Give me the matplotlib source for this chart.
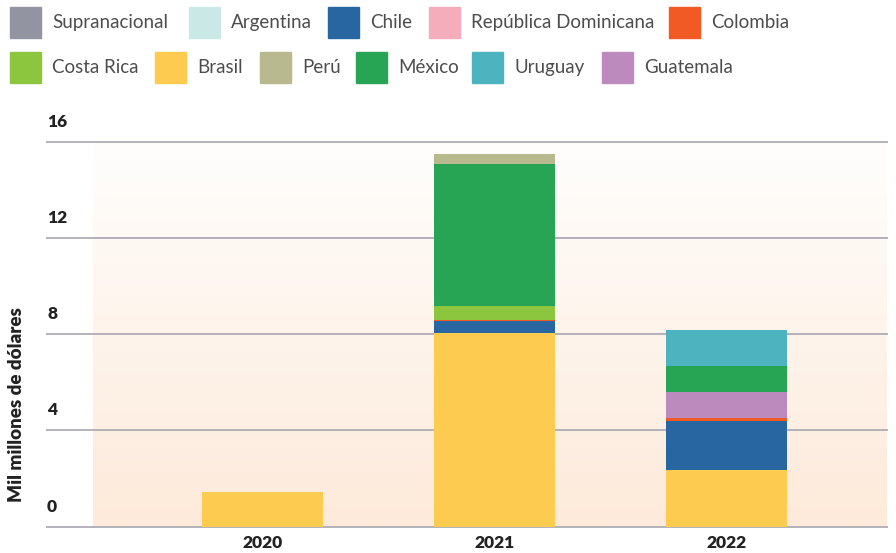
import matplotlib
matplotlib.use("Agg")
import matplotlib.pyplot as plt
import matplotlib.transforms as mtransforms
from matplotlib.patches import Rectangle
import numpy as np

plt.rcParams['font.family'] = ['Lato', 'DejaVu Sans']

# ---- data (mil millones de dólares) ----
years = ["2020", "2021", "2022"]
countries = ["Supranacional", "Argentina", "Chile", "República Dominicana", "Colombia",
             "Costa Rica", "Brasil", "Perú", "México", "Uruguay", "Guatemala"]
colors = {
    "Supranacional": "#9394a2",
    "Argentina": "#c9e8e6",
    "Chile": "#2766a1",
    "República Dominicana": "#f5adbb",
    "Colombia": "#f15a22",
    "Costa Rica": "#8cc63f",
    "Brasil": "#fdcb4f",
    "Perú": "#b8b98e",
    "México": "#27a454",
    "Uruguay": "#4db3bf",
    "Guatemala": "#bc8abd",
}
# stacking order from the bottom up
stack_order = ["Brasil", "Chile", "República Dominicana", "Colombia", "Costa Rica",
               "Guatemala", "México", "Perú", "Uruguay", "Argentina", "Supranacional"]
brasil = [1.44, 8.04, 2.36]
chile = [0.0, 0.50, 2.04]
rep_dominicana = [0.0, 0.0, 0.0]
colombia = [0.0, 0.07, 0.12]
costa_rica = [0.0, 0.55, 0.0]
guatemala = [0.0, 0.0, 1.08]
mexico = [0.0, 5.93, 1.08]
peru = [0.0, 0.41, 0.0]
uruguay = [0.0, 0.0, 1.50]
argentina = [0.0, 0.0, 0.0]
supranacional = [0.0, 0.0, 0.0]
series = {
    "Brasil": brasil, "Chile": chile, "República Dominicana": rep_dominicana,
    "Colombia": colombia, "Costa Rica": costa_rica, "Guatemala": guatemala,
    "México": mexico, "Perú": peru, "Uruguay": uruguay, "Argentina": argentina,
    "Supranacional": supranacional,
}
y_ticks = [0, 4, 8, 12, 16]
y_label = "Mil millones de dólares"

# ---- figure ----
W, H = 896, 553
fig = plt.figure(figsize=(W / 100, H / 100), dpi=100)
fig.patch.set_facecolor("white")

ax_left, ax_right, ax_top, ax_bottom = 93, 887, 141.7, 526.7
ax = fig.add_axes([ax_left / W, 1 - ax_bottom / H, (ax_right - ax_left) / W,
                   (ax_bottom - ax_top) / H])
ax.set_xlim(-0.73, 2.69)
ax.set_ylim(0, 16)

# soft vertical gradient behind the bars
grad = np.linspace(0, 1, 256).reshape(-1, 1)
top_c = np.array([255, 254, 253]) / 255
bot_c = np.array([253, 234, 218]) / 255
img = top_c * (1 - grad[..., None]) + bot_c * grad[..., None]
img = np.repeat(img, 2, axis=1)
ax.imshow(img, extent=(-0.73, 2.69, 0, 16), aspect="auto", origin="upper", zorder=0)

# gridlines extending left of the plotting area
grid_xmin = (47 - ax_left) / (ax_right - ax_left)
for v in y_ticks:
    ax.axhline(v, xmin=grid_xmin, xmax=1, color="#b3b1ba", lw=1.4, zorder=1,
               clip_on=False)

# stacked bars
x = np.arange(len(years))
bottom = np.zeros(len(years))
for name in stack_order:
    vals = np.array(series[name])
    ax.bar(x, vals, bottom=bottom, width=0.52, color=colors[name], zorder=2,
           linewidth=0)
    bottom += vals

for s in ax.spines.values():
    s.set_visible(False)
ax.set_yticks([])
ax.set_xticks(x)
ax.set_xticklabels(years, fontsize=12.5, fontweight="heavy", color="#222222")
ax.tick_params(axis="x", length=0, pad=6)

# y tick labels sit above their gridlines
trans = mtransforms.blended_transform_factory(ax.transAxes, ax.transData)
trans = mtransforms.offset_copy(trans, fig=fig, x=0, y=20, units="dots")
for v in y_ticks:
    ax.text(grid_xmin, v, str(v), transform=trans, ha="left", va="center",
            fontsize=12.5, fontweight="heavy", color="#222222")

fig.text(17 / W, 1 - 405 / H, y_label, rotation=90, ha="center", va="center",
         fontsize=13.5, fontweight="heavy", color="#222222")

# legend: two rows of colour squares with labels
legend_rows = [
    ["Supranacional", "Argentina", "Chile", "República Dominicana", "Colombia"],
    ["Costa Rica", "Brasil", "Perú", "México", "Uruguay", "Guatemala"],
]
legend_x = [
    [10, 189, 328, 429, 669],
    [10, 155, 260, 356, 472, 602],
]
row_y = [22.5, 67.5]
sq = 31
for row, xs, yc in zip(legend_rows, legend_x, row_y):
    for name, x0 in zip(row, xs):
        fig.patches.append(Rectangle((x0 / W, 1 - (yc + sq / 2) / H), sq / W, sq / H,
                                     transform=fig.transFigure, color=colors[name]))
        fig.text((x0 + 42) / W, 1 - yc / H, name, ha="left", va="center",
                 fontsize=13.5, color="#4d4d4d")

fig.savefig("out.png", dpi=100)
